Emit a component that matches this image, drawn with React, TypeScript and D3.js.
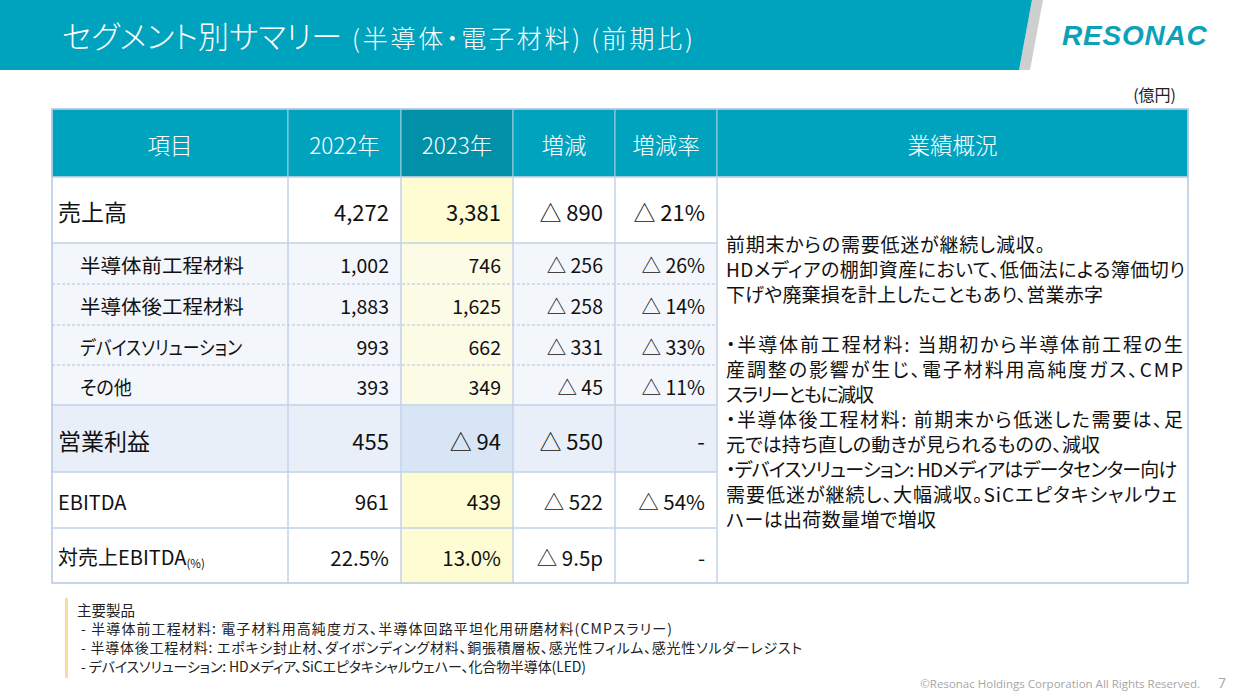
import React from 'react';
import * as d3 from 'd3';

const headers = ['項目', '2022年', '2023年', '増減', '増減率', '業績概況'];
const items = ['売上高', '半導体前工程材料', '半導体後工程材料', 'デバイスソリューション', 'その他', '営業利益', 'EBITDA', '対売上EBITDA'];
const itemSuffix = ['', '', '', '', '', '', '', '(%)'];
const rowKinds = ['main', 'sub', 'sub', 'sub', 'sub', 'profit', 'plain', 'plain'];
const values2022 = ['4,272', '1,002', '1,883', '993', '393', '455', '961', '22.5%'];
const values2023 = ['3,381', '746', '1,625', '662', '349', '△ 94', '439', '13.0%'];
const changes = ['△ 890', '△ 256', '△ 258', '△ 331', '△ 45', '△ 550', '△ 522', '△ 9.5p'];
const changeRates = ['△ 21%', '△ 26%', '△ 14%', '△ 33%', '△ 11%', '-', '△ 54%', '-'];

const summaryLines = [
  '前期末からの需要低迷が継続し減収。',
  'HDメディアの棚卸資産において、低価法による簿価切り',
  '下げや廃棄損を計上したこともあり、営業赤字',
  '',
  '・半導体前工程材料: 当期初から半導体前工程の生',
  '産調整の影響が生じ、電子材料用高純度ガス、CMP',
  'スラリーともに減収',
  '・半導体後工程材料: 前期末から低迷した需要は、足',
  '元では持ち直しの動きが見られるものの、減収',
  '・デバイスソリューション: HDメディアはデータセンター向け',
  '需要低迷が継続し、大幅減収。SiCエピタキシャルウェ',
  'ハーは出荷数量増で増収',
];

const footnoteTitle = '主要製品';
const footnoteLines = [
  '- 半導体前工程材料: 電子材料用高純度ガス、半導体回路平坦化用研磨材料(CMPスラリー)',
  '- 半導体後工程材料: エポキシ封止材、ダイボンディング材料、銅張積層板、感光性フィルム、感光性ソルダーレジスト',
  '- デバイスソリューション: HDメディア、SiCエピタキシャルウェハー、化合物半導体(LED)',
];

const titleMain = 'セグメント別サマリー';
const titleSub = '(半導体・電子材料) (前期比)';
const unitLabel = '(億円)';
const logoText = 'RESONAC';
const copyright = '©Resonac Holdings Corporation  All Rights Reserved.';
const pageNo = '7';

// ---- layout (not data) ----
const W = 1241;
const H = 699;
const FONT = "'Noto Sans CJK JP', 'Noto Sans', sans-serif";
const TEAL = '#00A3BE';
const TEAL_DARK = '#0091A9';
const GRID = '#C3D2E8';
const colWidths = [236, 113, 112, 102, 102, 471];
const tableX = 52;
const headerY = 109;
const headerH = 68;
const rowHeights = [66, 41, 41, 40, 40, 67, 56, 55];
const summaryWidths = [319, 459, 377, 0, 457, 457, 148, 457, 374, 451, 451, 210];
const subLabelWidths: Record<number, number> = { 1: 164, 2: 164, 3: 162, 4: 52 };
const footnoteWidths = [591, 721, 505];

const kindStyle: Record<string, { bg: string; bg23: string; label: number; value: number; indent: number }> = {
  main: { bg: '#FFFFFF', bg23: '#FEFCD3', label: 23, value: 22, indent: 6 },
  sub: { bg: '#F3F6FB', bg23: '#FCFBE6', label: 19.5, value: 19.5, indent: 28 },
  profit: { bg: '#E9EFF8', bg23: '#D8E5F4', label: 23, value: 22, indent: 6 },
  plain: { bg: '#FFFFFF', bg23: '#FEFCD3', label: 20, value: 20.5, indent: 6 },
};

export default function App() {
  const colX = [tableX, ...Array.from(d3.cumsum(colWidths)).map((c) => tableX + c)];
  const rowY = [headerY + headerH, ...Array.from(d3.cumsum(rowHeights)).map((c) => headerY + headerH + c)];
  const tableBottom = rowY[rowY.length - 1];
  const tableRight = colX[colX.length - 1];
  const valueCols = [values2022, values2023, changes, changeRates];

  const lineY = d3.scaleLinear().domain([0, summaryLines.length - 1]).range([243, 518]);
  const footY = d3.scaleLinear().domain([0, footnoteLines.length]).range([609, 666]);

  const textStyle: React.CSSProperties = { fontFeatureSettings: '"palt"' };

  return (
    <svg width={W} height={H} style={{ position: 'fixed', left: 0, top: 0, background: '#fff' }} fontFamily={FONT} fontWeight={400}>
      <rect x={0} y={0} width={W} height={H} fill="#fff" />
      {/* title bar */}
      <polygon points="1032,0 1043,0 1030,70 1019,70" fill="#CFCFCF" />
      <polygon points="0,0 1032,0 1019,70 0,70" fill={TEAL} />
      <text x={62} y={48} fill="#fff" fontSize={31} fontWeight={300} style={textStyle}>{titleMain}</text>
      <text x={352} y={48} fill="#fff" fontSize={25} fontWeight={300} textLength={341} lengthAdjust="spacing" style={textStyle}>{titleSub}</text>
      <text x={1062} y={45} fill="#0BA1B8" fontFamily="'Liberation Sans', Arial, sans-serif" fontWeight="bold" fontStyle="italic" fontSize={28} letterSpacing={0.8}>
        {logoText}
      </text>
      <text x={1176} y={101} textAnchor="end" fontSize={16} fill="#222" style={textStyle}>{unitLabel}</text>

      {/* header */}
      {headers.map((h, i) => (
        <g key={h}>
          <rect x={colX[i]} y={headerY} width={colWidths[i]} height={headerH} fill={i === 2 ? TEAL_DARK : TEAL} stroke="#9FCFE0" strokeWidth={1} />
          <text x={colX[i] + colWidths[i] / 2} y={headerY + headerH / 2 + 1} textAnchor="middle" dominantBaseline="central" fill="#fff" fontSize={22.5} fontWeight={300} style={textStyle}>
            {h}
          </text>
        </g>
      ))}

      {/* body cells */}
      {items.map((item, r) => {
        const st = kindStyle[rowKinds[r]];
        const y0 = rowY[r];
        const h = rowHeights[r];
        const cy = y0 + h / 2 + 1;
        return (
          <g key={item}>
            {[0, 1, 2, 3, 4].map((c) => (
              <rect key={c} x={colX[c]} y={y0} width={colWidths[c]} height={h} fill={c === 2 ? st.bg23 : st.bg} />
            ))}
            <text
              x={colX[0] + st.indent}
              y={cy}
              dominantBaseline="central"
              fontSize={st.label}
              fill="#111"
              textLength={subLabelWidths[r]}
              lengthAdjust={subLabelWidths[r] ? 'spacingAndGlyphs' : undefined}
              style={textStyle}
            >
              {item}
              {itemSuffix[r] ? <tspan fontSize={11.5} dy={6}>{itemSuffix[r]}</tspan> : null}
            </text>
            {valueCols.map((vals, c) => (
              <text key={c} x={colX[c + 2] - 12} y={cy} textAnchor="end" dominantBaseline="central" fontSize={st.value} fill="#111" style={textStyle}>
                {vals[r]}
              </text>
            ))}
          </g>
        );
      })}

      {/* horizontal separators */}
      {rowY.slice(1, -1).map((y, i) => {
        const dashed = rowKinds[i] === 'sub' && rowKinds[i + 1] === 'sub';
        return (
          <line key={i} x1={tableX} x2={colX[5]} y1={y} y2={y} stroke={dashed ? '#AFC3DD' : GRID} strokeWidth={dashed ? 1 : 1.5} strokeDasharray={dashed ? '3,2' : undefined} />
        );
      })}
      <line x1={tableX} x2={tableRight} y1={rowY[0]} y2={rowY[0]} stroke={GRID} strokeWidth={1.5} />
      {/* vertical separators */}
      {colX.slice(1, -1).map((x, i) => (
        <line key={i} x1={x} x2={x} y1={rowY[0]} y2={tableBottom} stroke={GRID} strokeWidth={1.5} />
      ))}

      {/* summary column */}
      {summaryLines.map((l, i) =>
        l ? (
          <text key={i} x={colX[5] + 9} y={lineY(i)} dominantBaseline="central" fontSize={19} fill="#111" textLength={summaryWidths[i]} lengthAdjust="spacing" style={textStyle}>
            {l}
          </text>
        ) : null
      )}

      {/* outer border */}
      <rect x={tableX} y={headerY} width={tableRight - tableX} height={tableBottom - headerY} fill="none" stroke="#B5C8E2" strokeWidth={1.5} />

      {/* footnote */}
      <rect x={65} y={598} width={3} height={80} fill="#F8DE9E" />
      <text x={77} y={footY(0)} dominantBaseline="central" fontSize={14.5} fill="#222" style={textStyle}>{footnoteTitle}</text>
      {footnoteLines.map((l, i) => (
        <text key={i} x={81} y={footY(i + 1)} dominantBaseline="central" fontSize={14} fill="#222" textLength={footnoteWidths[i]} lengthAdjust="spacing" style={textStyle}>
          {l}
        </text>
      ))}

      <text x={1200} y={688} textAnchor="end" fontSize={11.5} fill="#A6A6A6" fontFamily="'Open Sans', 'Noto Sans', sans-serif">{copyright}</text>
      <text x={1226} y={688} textAnchor="end" fontSize={14} fill="#A6A6A6" fontFamily="'Open Sans', 'Noto Sans', sans-serif">{pageNo}</text>
    </svg>
  );
}
